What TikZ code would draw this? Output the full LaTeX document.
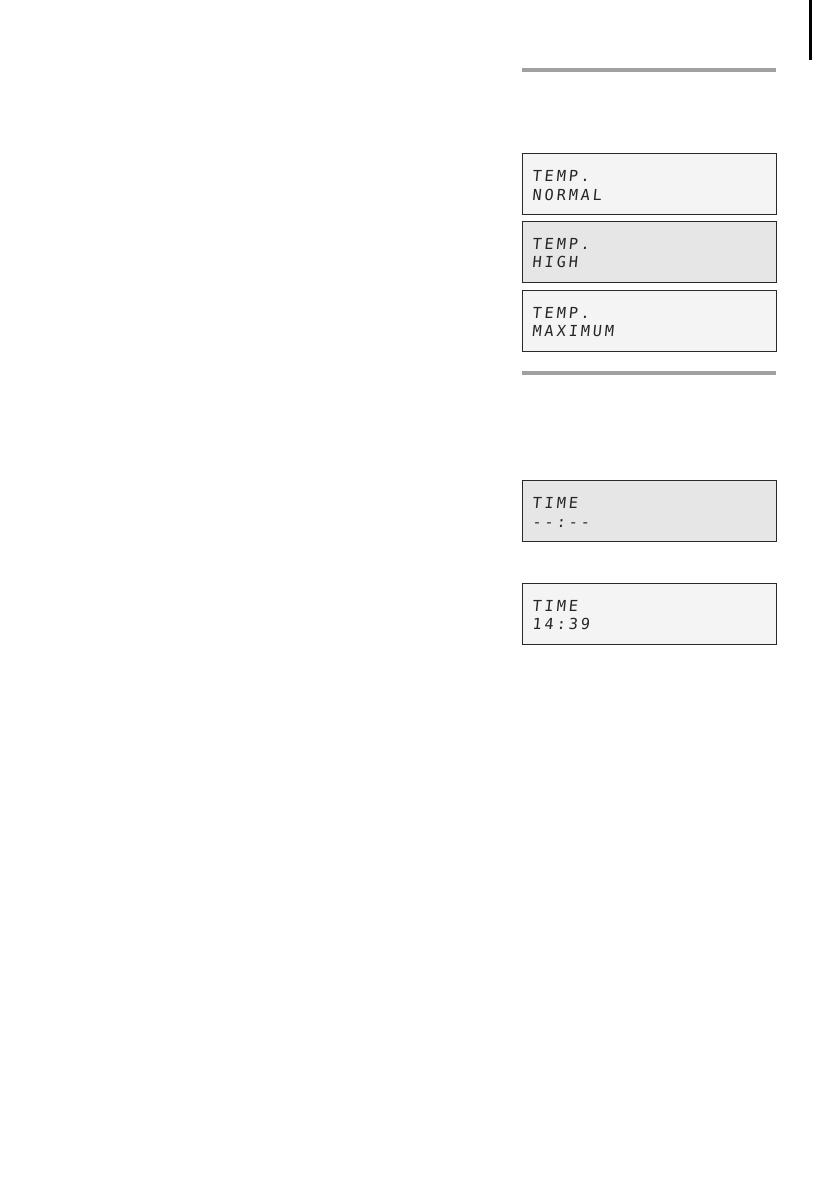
\documentclass[tikz,border=0pt]{standalone}
\usepackage{fontspec}
\newfontfamily\lcdfont[FakeSlant=0.1,LetterSpace=19]{DejaVu Sans Mono}
\definecolor{lcdlight}{HTML}{F3F4F3}
\definecolor{lcdgray}{HTML}{E6E6E6}
\definecolor{rulegray}{HTML}{A0A0A0}
\definecolor{boxedge}{HTML}{2A2A2A}
\tikzset{
  lcdbox/.style={draw=boxedge, line width=0.9pt},
  lcdtext/.style={anchor=base west, inner sep=0pt, font=\lcdfont\fontsize{15.2}{17}\selectfont, text=black!85},
  sectionrule/.style={draw=rulegray, line width=4pt},
}
\begin{document}
\begin{tikzpicture}[x=1pt,y=-1pt]
\useasboundingbox[fill=white] (0,0) rectangle (839,1191);
% top-right edge mark
\draw[line width=3pt, black] (810,0) -- (810,60);
% section rules
\coordinate (r1a) at (522,70); \coordinate (r1b) at (776,70);
\draw[sectionrule] (r1a) -- (r1b);
\coordinate (r2a) at (522,373); \coordinate (r2b) at (776,373);
\draw[sectionrule] (r2a) -- (r2b);
% displays
\draw[lcdbox, fill=lcdlight] (522,153) rectangle (776,214);
\node[lcdtext] (t1a) at (532,181) {TEMP.};
\node[lcdtext] (t1b) at (532,200) {NORMAL};
\draw[lcdbox, fill=lcdgray] (522,221) rectangle (776,282);
\node[lcdtext] (t2a) at (532,249) {TEMP.};
\node[lcdtext] (t2b) at (532,267) {HIGH};
\draw[lcdbox, fill=lcdlight] (522,290) rectangle (776,351);
\node[lcdtext] (t3a) at (532,318) {TEMP.};
\node[lcdtext] (t3b) at (532,336) {MAXIMUM};
\draw[lcdbox, fill=lcdgray] (522,480) rectangle (776,541);
\node[lcdtext] (t4a) at (532,508) {TIME};
\node[lcdtext] (t4b) at (532,527) {--:--};
\draw[lcdbox, fill=lcdlight] (522,583) rectangle (776,644);
\node[lcdtext] (t5a) at (532,611) {TIME};
\node[lcdtext] (t5b) at (532,629) {14:39};
\end{tikzpicture}
\end{document}
